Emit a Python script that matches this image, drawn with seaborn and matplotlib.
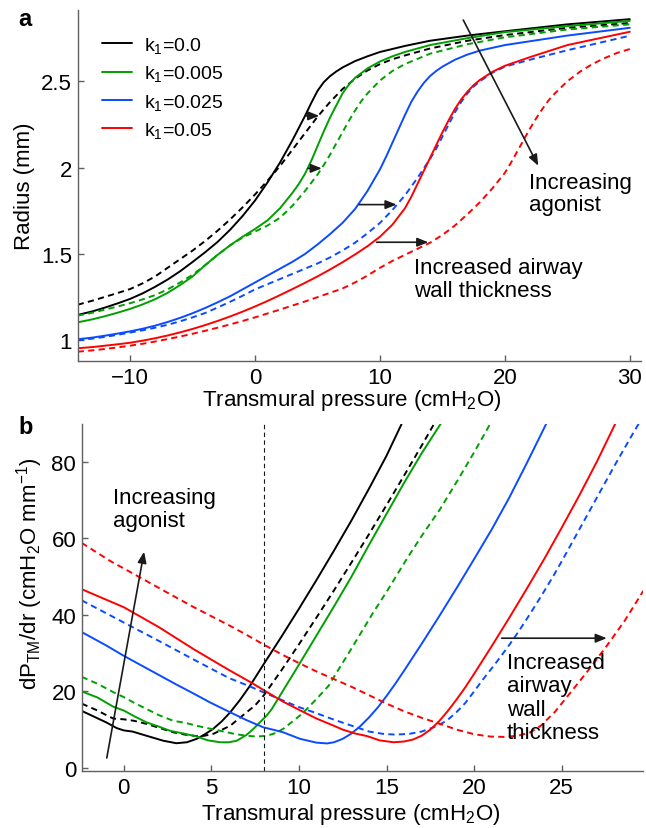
import matplotlib
matplotlib.use("Agg")
import matplotlib.pyplot as plt
from matplotlib.lines import Line2D
import seaborn as sns

# ---------------- data: panel a (radius vs transmural pressure) ----------------
a_k0_solid_x = [-14.2, -13, -12, -11, -10, -9, -8, -7, -6, -5, -4, -3, -2, -1, 0, 1, 2, 3, 4, 4.5, 5, 5.5, 6, 6.5, 7, 8, 9, 10, 12, 14, 17, 20, 25, 30]
a_k0_solid_y = [1.147, 1.168, 1.19, 1.214, 1.24, 1.272, 1.31, 1.352, 1.40, 1.454, 1.51, 1.57, 1.64, 1.72, 1.81, 1.915, 2.03, 2.16, 2.30, 2.375, 2.445, 2.495, 2.53, 2.557, 2.58, 2.617, 2.645, 2.67, 2.705, 2.735, 2.765, 2.79, 2.83, 2.86]
a_k0_dash_x = [-14.2, -13, -12, -11, -10, -9, -8, -7, -6, -5, -4, -3, -2, -1, 0, 1, 2, 3, 4, 5, 6, 7, 8, 9, 10, 11, 12, 14, 17, 20, 25, 30]
a_k0_dash_y = [1.206, 1.23, 1.252, 1.274, 1.297, 1.33, 1.37, 1.42, 1.47, 1.52, 1.575, 1.635, 1.70, 1.77, 1.845, 1.925, 2.01, 2.105, 2.20, 2.295, 2.38, 2.455, 2.515, 2.563, 2.60, 2.628, 2.65, 2.69, 2.735, 2.768, 2.81, 2.838]

a_k1_solid_x = [-14.2, -13, -12, -11, -10, -9, -8, -7, -6, -5, -4, -3, -2, -1, 0, 1, 2, 3, 3.5, 4, 4.5, 5, 5.5, 6, 6.5, 7, 7.5, 8, 9, 10, 11, 12, 14, 17, 20, 25, 30]
a_k1_solid_y = [1.104, 1.122, 1.14, 1.16, 1.182, 1.208, 1.238, 1.275, 1.32, 1.37, 1.435, 1.495, 1.55, 1.60, 1.645, 1.695, 1.765, 1.855, 1.905, 1.965, 2.04, 2.125, 2.21, 2.29, 2.36, 2.43, 2.48, 2.52, 2.575, 2.615, 2.645, 2.67, 2.71, 2.75, 2.785, 2.82, 2.85]
a_k1_dash_x = [-14.2, -13, -12, -11, -10, -9, -8, -7, -6, -5, -4, -3, -2, -1, 0, 1, 2, 3, 4, 5, 5.5, 6, 6.5, 7, 7.5, 8, 8.5, 9, 10, 11, 12, 14, 17, 20, 25, 30]
a_k1_dash_y = [1.143, 1.16, 1.178, 1.196, 1.215, 1.237, 1.262, 1.295, 1.335, 1.38, 1.435, 1.495, 1.55, 1.595, 1.63, 1.665, 1.71, 1.78, 1.865, 1.96, 2.015, 2.075, 2.14, 2.205, 2.27, 2.33, 2.385, 2.43, 2.505, 2.56, 2.60, 2.66, 2.715, 2.755, 2.80, 2.83]

a_k2_solid_x = [-14.2, -13, -12, -11, -10, -9, -8, -7, -6, -5, -4, -3, -2, -1, 0, 1, 2, 3, 4, 5, 6, 7, 8, 9, 10, 10.5, 11, 11.5, 12, 12.5, 13, 13.5, 14, 14.5, 15, 16, 17, 18, 20, 25, 30]
a_k2_solid_y = [1.006, 1.016, 1.027, 1.039, 1.052, 1.067, 1.085, 1.106, 1.13, 1.157, 1.187, 1.22, 1.255, 1.295, 1.335, 1.375, 1.415, 1.455, 1.50, 1.555, 1.615, 1.68, 1.76, 1.865, 1.99, 2.065, 2.145, 2.225, 2.305, 2.38, 2.44, 2.49, 2.53, 2.56, 2.585, 2.625, 2.655, 2.678, 2.71, 2.765, 2.81]
a_k2_dash_x = [-14.2, -13, -12, -11, -10, -9, -8, -7, -6, -5, -4, -3, -2, -1, 0, 1, 2, 3, 4, 5, 6, 7, 8, 9, 10, 11, 12, 13, 14, 14.5, 15, 15.5, 16, 16.5, 17, 17.5, 18, 19, 20, 22, 25, 30]
a_k2_dash_y = [1.0, 1.01, 1.02, 1.032, 1.045, 1.058, 1.073, 1.09, 1.11, 1.133, 1.158, 1.19, 1.223, 1.258, 1.295, 1.325, 1.355, 1.385, 1.415, 1.445, 1.48, 1.52, 1.565, 1.62, 1.68, 1.755, 1.84, 1.94, 2.05, 2.11, 2.18, 2.25, 2.32, 2.38, 2.43, 2.47, 2.50, 2.55, 2.585, 2.625, 2.68, 2.764]

a_k3_solid_x = [-14.2, -13, -12, -11, -10, -9, -8, -7, -6, -5, -4, -3, -2, -1, 0, 1, 2, 3, 4, 5, 6, 7, 8, 9, 10, 11, 12, 12.5, 13, 13.5, 14, 14.5, 15, 15.5, 16, 16.5, 17, 17.5, 18, 19, 20, 22, 25, 30]
a_k3_solid_y = [0.954, 0.961, 0.969, 0.977, 0.986, 0.998, 1.012, 1.028, 1.046, 1.066, 1.088, 1.112, 1.138, 1.166, 1.196, 1.228, 1.262, 1.297, 1.333, 1.37, 1.41, 1.452, 1.497, 1.545, 1.60, 1.67, 1.765, 1.83, 1.905, 1.98, 2.055, 2.13, 2.205, 2.275, 2.34, 2.395, 2.44, 2.478, 2.508, 2.555, 2.59, 2.64, 2.71, 2.787]
a_k3_dash_x = [-14.2, -13, -12, -11, -10, -9, -8, -7, -6, -5, -4, -3, -2, -1, 0, 2, 4, 6, 7, 8, 9, 10, 11, 12, 13, 14, 15, 16, 17, 18, 19, 20, 20.5, 21, 21.5, 22, 22.5, 23, 23.5, 24, 25, 26, 27, 28, 29, 30]
a_k3_dash_y = [0.934, 0.942, 0.95, 0.959, 0.969, 0.98, 0.993, 1.007, 1.022, 1.038, 1.055, 1.073, 1.092, 1.112, 1.133, 1.178, 1.225, 1.275, 1.30, 1.335, 1.375, 1.42, 1.46, 1.495, 1.53, 1.565, 1.61, 1.665, 1.73, 1.80, 1.88, 1.97, 2.03, 2.095, 2.16, 2.225, 2.285, 2.34, 2.39, 2.43, 2.50, 2.555, 2.60, 2.635, 2.665, 2.687]

# ---------------- data: panel b (dP/dr vs transmural pressure) ----------------
b_k0_solid_x = [-2.4, -1.7, -1.0, -0.4, 0, 0.5, 1.3, 2.26, 3.0, 3.6, 4.17, 4.6, 5.1, 5.6, 6.07, 6.64, 7.21, 8, 9, 10, 11, 12, 13, 14, 15, 15.85]
b_k0_solid_y = [14.9, 13.4, 11.9, 10.4, 9.8, 9.5, 8.4, 7.1, 6.45, 6.7, 7.6, 8.7, 10.2, 12.2, 14.5, 17.8, 21.5, 27.2, 34.3, 41.6, 49.1, 56.8, 64.7, 73.0, 81.6, 89.8]
b_k0_dash_x = [-2.4, -1.5, -1.0, -0.6, 0, 0.6, 1.3, 2.0, 2.83, 3.5, 4.17, 4.6, 5.11, 6.07, 7.0, 7.49, 8.0, 9, 10, 11, 12, 13, 14, 15, 16, 17, 17.7]
b_k0_dash_y = [16.8, 15.0, 13.8, 12.9, 12.7, 12.3, 11.5, 10.5, 9.3, 8.7, 8.3, 8.4, 8.9, 11.0, 14.5, 16.3, 19.0, 25.5, 32.3, 39.3, 46.4, 53.7, 61.1, 68.7, 76.4, 84.2, 89.8]

b_k1_solid_x = [-2.4, -1.5, -0.6, 0, 0.6, 1.3, 2.0, 2.64, 3.4, 4.17, 4.8, 5.5, 6.0, 6.45, 7.0, 7.4, 8.16, 8.45, 9, 10, 11, 12, 13, 14, 15, 16, 17, 18.1]
b_k1_solid_y = [20.0, 18.4, 16.0, 15.0, 13.5, 11.9, 10.8, 9.7, 9.0, 8.2, 7.2, 6.7, 6.7, 7.1, 8.6, 10.2, 13.7, 15.4, 19.5, 27.0, 34.6, 42.2, 50.0, 58.3, 66.4, 74.5, 82.2, 90.0]
b_k1_dash_x = [-2.4, -1.5, -0.6, 0, 0.6, 1.3, 2.0, 2.83, 3.5, 4.17, 5.5, 6.3, 7.0, 7.6, 8.16, 8.6, 9.1, 10.06, 10.45, 11.0, 11.7, 12.16, 13, 14.25, 15, 16.15, 17, 18.05, 19.1, 20, 20.9]
b_k1_dash_y = [23.8, 22.0, 19.8, 18.5, 17.0, 15.4, 13.8, 12.3, 11.8, 11.0, 9.7, 8.9, 8.4, 8.2, 8.4, 9.0, 10.2, 13.7, 15.4, 18.0, 21.5, 25.0, 31.2, 40.7, 46.0, 54.6, 60.6, 67.6, 75.5, 82.5, 89.8]

b_k2_solid_x = [-2.4, -1, 0, 1, 2, 3, 4, 4.93, 6, 7, 7.97, 8.6, 9.1, 10.06, 11.0, 11.6, 12, 12.5, 13, 13.5, 14, 14.5, 15, 15.5, 16, 16.5, 17, 18, 19, 20, 21, 22, 23, 24.1]
b_k2_solid_y = [35.5, 32.0, 29.3, 26.8, 24.3, 21.8, 19.4, 17.1, 14.7, 12.5, 10.6, 9.9, 9.3, 7.6, 6.6, 6.4, 6.7, 7.6, 9.0, 10.9, 13.2, 15.8, 18.8, 22.0, 25.4, 28.9, 32.4, 39.6, 47.0, 54.6, 62.3, 70.6, 79.6, 89.8]
b_k2_dash_x = [-2.4, 0, 2, 4, 6, 7.2, 8, 9.1, 10, 11, 12, 12.9, 14, 14.8, 15.5, 16.3, 17, 17.5, 18, 18.5, 19, 19.5, 20, 20.5, 21, 21.5, 22, 22.5, 23, 23.5, 24, 24.5, 25, 26, 27, 28, 29, 29.4]
b_k2_dash_y = [43.8, 38.0, 33.2, 28.3, 23.5, 21.3, 19.7, 17.6, 15.9, 14.3, 12.6, 11.2, 9.5, 8.9, 8.7, 8.9, 9.5, 10.3, 11.2, 12.6, 14.6, 17.0, 20.0, 23.1, 26.0, 29.0, 32.1, 35.4, 38.9, 42.5, 46.2, 50.0, 54.0, 62.3, 70.6, 78.9, 86.9, 90.0]

b_k3_solid_x = [-2.4, 0, 2, 4, 6, 7.2, 8, 9.1, 10, 11, 12, 12.5, 13.2, 13.9, 14.6, 15.4, 16.0, 16.5, 17.0, 17.5, 18.0, 18.5, 19.0, 19.5, 20.0, 20.5, 21.0, 21.5, 22.0, 23.0, 24.0, 25.0, 26.0, 27.0, 28.04]
b_k3_solid_y = [46.7, 42.0, 36.8, 31.0, 25.6, 22.5, 20.3, 17.3, 15.2, 12.9, 11.0, 10.0, 9.0, 8.3, 7.2, 6.7, 6.9, 7.4, 8.4, 10.0, 12.2, 14.9, 17.9, 21.1, 24.6, 28.2, 31.8, 35.5, 39.2, 46.8, 54.6, 62.8, 71.2, 80.0, 89.8]
b_k3_dash_x = [-2.4, -0.78, 1, 2.45, 4, 6, 7, 8, 9, 10, 11, 12, 13, 14, 15, 16, 17, 18, 19, 20, 20.9, 21.7, 22.5, 23.2, 23.8, 24.6, 25.66, 26.6, 27.57, 28.6, 29.66]
b_k3_dash_y = [58.8, 54.1, 49.6, 45.9, 42.0, 37.3, 34.8, 32.2, 29.7, 27.4, 25.2, 23.2, 21.2, 19.0, 16.8, 14.8, 13.1, 11.6, 10.0, 8.8, 8.2, 8.1, 8.4, 9.3, 11.0, 14.6, 20.6, 26.0, 31.9, 38.5, 46.3]

legend_labels = ["k$_1$=0.0", "k$_1$=0.005", "k$_1$=0.025", "k$_1$=0.05"]
colors = ["#000000", "#00A000", "#0A4BFF", "#FF0000"]

a_ticks_x = [-10, 0, 10, 20, 30]
a_ticklabels_x = ["\u221210", "0", "10", "20", "30"]
a_ticks_y = [1, 1.5, 2, 2.5]
a_ticklabels_y = ["1", "1.5", "2", "2.5"]
b_ticks_x = [0, 5, 10, 15, 20, 25]
b_ticks_y = [0, 20, 40, 60, 80]

# ---------------- style ----------------
sns.set_theme(style="white")
plt.rcParams["font.family"] = ["Liberation Sans", "DejaVu Sans"]
plt.rcParams["mathtext.fontset"] = "custom"
plt.rcParams["mathtext.rm"] = "Liberation Sans"
plt.rcParams["mathtext.it"] = "Liberation Sans:italic"
plt.rcParams["mathtext.bf"] = "Liberation Sans:bold"
plt.rcParams["axes.unicode_minus"] = True
plt.rcParams["text.color"] = "black"
plt.rcParams["axes.labelcolor"] = "black"

FS = 16
SPINE = "#606060"
LW = 1.4
DASH = (0, (3.2, 2.2))

fig = plt.figure(figsize=(6.46, 8.29), dpi=100)
ax1 = fig.add_axes([0.1203, 0.5633, 0.8720, 0.4234])
ax2 = fig.add_axes([0.1265, 0.0688, 0.8689, 0.4186])

panel_a = [
    (a_k0_solid_x, a_k0_solid_y, a_k0_dash_x, a_k0_dash_y),
    (a_k1_solid_x, a_k1_solid_y, a_k1_dash_x, a_k1_dash_y),
    (a_k2_solid_x, a_k2_solid_y, a_k2_dash_x, a_k2_dash_y),
    (a_k3_solid_x, a_k3_solid_y, a_k3_dash_x, a_k3_dash_y),
]
panel_b = [
    (b_k0_solid_x, b_k0_solid_y, b_k0_dash_x, b_k0_dash_y),
    (b_k1_solid_x, b_k1_solid_y, b_k1_dash_x, b_k1_dash_y),
    (b_k2_solid_x, b_k2_solid_y, b_k2_dash_x, b_k2_dash_y),
    (b_k3_solid_x, b_k3_solid_y, b_k3_dash_x, b_k3_dash_y),
]

for ax, panel in ((ax1, panel_a), (ax2, panel_b)):
    for (sx, sy, dx, dy), c in zip(panel, colors):
        sns.lineplot(x=sx, y=sy, ax=ax, color=c, linewidth=LW, sort=False, estimator=None)
        sns.lineplot(x=dx, y=dy, ax=ax, color=c, linewidth=LW, linestyle=DASH, sort=False, estimator=None)

def style_axes(ax):
    for s in ("top", "right"):
        ax.spines[s].set_visible(False)
    for s in ("left", "bottom"):
        ax.spines[s].set_color(SPINE)
        ax.spines[s].set_linewidth(1.0)
    ax.tick_params(direction="in", length=4, width=1.0, color=SPINE, labelcolor="black",
                   labelsize=FS, pad=4, left=True, bottom=True)

# ---- panel a ----
ax1.set_xlim(-14.2, 30.9)
ax1.set_ylim(0.88, 2.913)
ax1.set_xticks(a_ticks_x)
ax1.set_xticklabels(a_ticklabels_x)
ax1.set_yticks(a_ticks_y)
ax1.set_yticklabels(a_ticklabels_y)
style_axes(ax1)
ax1.set_xlabel("Transmural pressure (cmH$_2$O)", fontsize=FS, color="black")
ax1.set_ylabel("Radius (mm)", fontsize=FS, color="black")
ax1.xaxis.set_label_coords(0.487, -0.074)
ax1.yaxis.set_label_coords(-0.075, 0.5)

handles = [Line2D([], [], color=c, lw=LW) for c in colors]
leg = ax1.legend(handles, legend_labels, loc="upper left", bbox_to_anchor=(0.043, 0.928),
                 frameon=False, fontsize=14, handlelength=1.55, handletextpad=0.6,
                 labelspacing=0.42, borderpad=0, borderaxespad=0)
for t in leg.get_texts():
    t.set_color("black")

arr = dict(arrowstyle="-|>,head_length=0.55,head_width=0.22", color="k", lw=1.2,
           shrinkA=0, shrinkB=0)
ax1.annotate("", xy=(5.14, 2.30), xytext=(4.0, 2.30), arrowprops=arr)
ax1.annotate("", xy=(5.34, 1.996), xytext=(4.24, 1.996), arrowprops=arr)
ax1.annotate("", xy=(11.33, 1.786), xytext=(8.35, 1.786), arrowprops=arr)
ax1.annotate("", xy=(13.87, 1.568), xytext=(9.73, 1.568), arrowprops=arr)
ax1.annotate("", xy=(22.67, 2.011), xytext=(16.67, 2.855), arrowprops=arr)
ax1.text(21.9, 1.975, "Increasing\nagonist", fontsize=FS, ha="left", va="top", linespacing=1.05, color="black")
ax1.text(12.7, 1.481, "Increased airway\nwall thickness", fontsize=FS, ha="left", va="top", linespacing=1.1, color="black")

# ---- panel b ----
ax2.set_xlim(-2.4, 29.64)
ax2.set_ylim(-0.8, 89.9)
ax2.set_xticks(b_ticks_x)
ax2.set_yticks(b_ticks_y)
style_axes(ax2)
ax2.axvline(8, color="k", lw=0.8, ls=(0, (4, 3)))
ax2.set_xlabel("Transmural pressure (cmH$_2$O)", fontsize=FS, color="black")
ax2.set_ylabel(r"dP$_{\rm TM}$/dr (cmH$_2$O mm$^{-1}$)", fontsize=FS, color="black")
ax2.xaxis.set_label_coords(0.48, -0.086)
ax2.yaxis.set_label_coords(-0.066, 0.57)

ax2.annotate("", xy=(1.16, 56.5), xytext=(-0.97, 2.6), arrowprops=arr)
ax2.annotate("", xy=(27.57, 33.9), xytext=(21.57, 33.9), arrowprops=arr)
ax2.text(-0.63, 73.3, "Increasing\nagonist", fontsize=FS, ha="left", va="top", linespacing=1.1, color="black")
ax2.text(21.86, 30.3, "Increased\nairway\nwall\nthickness", fontsize=FS, ha="left", va="top", linespacing=1.15, color="black")

fig.text(18 / 646, 1 - 20 / 829, "a", fontsize=17, fontweight="bold", ha="left", va="center", color="black")
fig.text(18 / 646, 1 - 428 / 829, "b", fontsize=17, fontweight="bold", ha="left", va="center", color="black")

fig.savefig("out.png", dpi=100)
